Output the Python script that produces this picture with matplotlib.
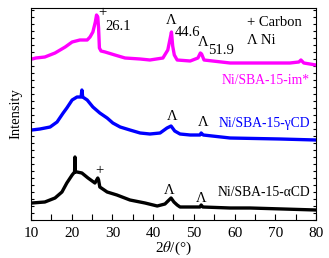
import matplotlib
matplotlib.use("Agg")
import matplotlib.pyplot as plt
from matplotlib.ticker import MultipleLocator

plt.rcParams['font.family'] = ['Liberation Serif', 'DejaVu Serif']
plt.rcParams['mathtext.fontset'] = 'stix'

# Ni/SBA-15-im* (magenta)
im_x = [10.2, 11.2, 13.4, 15.9, 18.4, 20.1, 22.0, 23.8, 24.5, 25.2, 25.8, 26.1, 26.4,
        26.6, 26.8, 27.2, 28.2, 30.6, 33.1, 36.8, 39.2, 42.4, 43.6, 44.2, 44.5, 44.8,
        45.2, 45.9, 49.1, 51.0, 51.6, 51.9, 52.5, 58.9, 73.6, 75.8, 76.3, 77.0, 80.0]
im_y = [161, 162, 163, 167, 173, 178, 180, 180, 183, 188, 198, 205, 203,
        192, 172, 169, 168, 165, 162, 161, 160, 162, 170, 182, 188, 174,
        165, 160, 159, 162, 167, 166, 160, 157, 157, 158, 160, 157, 155]

# Ni/SBA-15-gammaCD (blue)
g_x = [10.2, 12.2, 14.7, 16.4, 17.9, 18.8, 20.1, 21.3, 22.3, 22.5, 22.7, 23.8, 25.2,
       26.9, 28.7, 30.1, 31.9, 34.3, 36.8, 39.2, 41.7, 43.4, 44.4, 45.3, 46.6, 49.1,
       51.5, 51.8, 52.3, 58.9, 71.2, 80.0]
g_y = [90, 91, 93, 98, 107, 112, 120, 123, 123, 130, 123, 120, 113,
       107, 102, 97, 93, 90, 87, 86, 87, 92, 94, 89, 86, 85,
       85, 87, 85, 82, 81, 80]

# Ni/SBA-15-alphaCD (black)
a_x = [10.2, 13.4, 15.9, 17.6, 18.8, 20.1, 20.7, 20.8, 20.9, 21.3, 22.5, 24.0, 25.7,
       26.4, 26.6, 26.9, 28.7, 31.1, 34.3, 38.0, 41.0, 42.9, 44.4, 45.1, 45.9, 46.6,
       51.5, 51.8, 52.2, 58.9, 63.8, 80.0]
a_y = [17, 18, 22, 28, 37, 45, 48, 63, 48, 48, 47, 42, 37,
       42, 40, 33, 28, 25, 20, 17, 14, 16, 22, 18, 15, 13,
       13, 15, 13, 12, 12, 10]

fig = plt.figure(figsize=(3.29, 2.58), dpi=100)
ax = fig.add_axes([31 / 329, 38 / 258, 285 / 329, 212 / 258])

lw = 2.4
ax.plot(im_x, im_y, color='#ff00ff', lw=lw, solid_joinstyle='round')
ax.plot(g_x, g_y, color='#0000ff', lw=lw, solid_joinstyle='round')
ax.plot(a_x, a_y, color='black', lw=lw, solid_joinstyle='round')

ax.set_xlim(10, 80)
ax.set_ylim(0, 212)
ax.xaxis.set_major_locator(MultipleLocator(10))
ax.xaxis.set_minor_locator(MultipleLocator(5))
ax.yaxis.set_major_locator(MultipleLocator(7))
ax.tick_params(axis='x', which='both', direction='in', length=4, width=0.8,
               labelsize=11, pad=5)
ax.tick_params(axis='y', which='both', direction='in', length=2.5, width=0.8,
               left=True, right=True, labelleft=False)
for s in ax.spines.values():
    s.set_linewidth(0.8)

ax.set_xlabel(r'2$\theta$/(°)', fontsize=11, labelpad=0)
ax.set_ylabel('Intensity', fontsize=10.5, labelpad=6)

fs = 10.5
lfs = 9.8
ax.text(80 - 1.5, 140, 'Ni/SBA-15-im*', color='#ff00ff', fontsize=lfs, ha='right', va='center')
ax.text(80 - 1.5, 97, 'Ni/SBA-15-γCD', color='#0000ff', fontsize=lfs, ha='right', va='center')
ax.text(80 - 1.5, 27, 'Ni/SBA-15-αCD', color='black', fontsize=lfs, ha='right', va='center')

ax.text(27.6, 207, '+', fontsize=fs, ha='center', va='center')
ax.text(28.3, 194, '26.1', fontsize=fs, ha='left', va='center')
ax.text(44.4, 199, 'Λ', fontsize=fs, ha='center', va='center')
ax.text(45.3, 187, '44.6', fontsize=fs, ha='left', va='center')
ax.text(52.2, 177, 'Λ', fontsize=fs, ha='center', va='center')
ax.text(53.4, 170, '51.9', fontsize=fs, ha='left', va='center')
ax.text(63.0, 198, '+ Carbon', fontsize=fs, ha='left', va='center')
ax.text(63.0, 180, 'Λ Ni', fontsize=fs, ha='left', va='center')

ax.text(44.6, 103, 'Λ', fontsize=fs, ha='center', va='center')
ax.text(52.2, 97, 'Λ', fontsize=fs, ha='center', va='center')
ax.text(26.8, 49, '+', fontsize=fs, ha='center', va='center')
ax.text(44.0, 30, 'Λ', fontsize=fs, ha='center', va='center')
ax.text(51.9, 22, 'Λ', fontsize=fs, ha='center', va='center')

fig.savefig('out.png', dpi=100)
